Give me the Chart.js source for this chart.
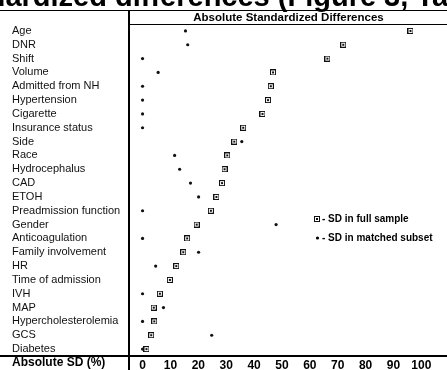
<!DOCTYPE html>
<html>
<head>
<meta charset="utf-8">
<script src="https://cdn.jsdelivr.net/npm/chart.js"></script>
<style>
  html, body { margin: 0; padding: 0; background: #fff; }
</style>
</head>
<body>
<canvas id="sdChart" width="447" height="370"></canvas>
<script>
// values
const variables = ['Age', 'DNR', 'Shift', 'Volume', 'Admitted from NH', 'Hypertension', 'Cigarette',
  'Insurance status', 'Side', 'Race', 'Hydrocephalus', 'CAD', 'ETOH', 'Preadmission function',
  'Gender', 'Anticoagulation', 'Family involvement', 'HR', 'Time of admission', 'IVH', 'MAP',
  'Hypercholesterolemia', 'GCS', 'Diabetes'];
const sdFullSample = [96.1, 72.0, 66.3, 46.8, 46.0, 45.0, 43.0, 36.1, 32.9, 30.4, 29.4, 28.5,
  26.5, 24.5, 19.4, 16.0, 14.6, 12.1, 9.8, 6.2, 4.0, 4.2, 3.1, 1.4];
const sdMatchedSubset = [15.4, 16.2, 0, 5.6, 0, 0, 0, 0, 35.6, 11.5, 13.3, 17.2,
  20.1, 0, 47.9, 0, 20.1, 4.7, null, 0, 7.5, 0, 24.8, 0];
const xTickValues = [0, 10, 20, 30, 40, 50, 60, 70, 80, 90, 100];

const titleText = 'Standardized differences (Figure 3, Table 3)';
const headerText = 'Absolute Standardized Differences';
const axisText = 'Absolute SD (%)';

const narrowBold = "'Liberation Sans Narrow', 'Arial Narrow', 'Liberation Sans', sans-serif";
const sans = "'Liberation Sans', Arial, sans-serif";

function toPoints(values) {
  const pts = [];
  values.forEach(function (v, i) {
    if (v !== null) pts.push({ x: v, y: variables[i] });
  });
  return pts;
}

// little "¤" style square marker
function squareMarker() {
  const c = document.createElement('canvas');
  c.width = 6; c.height = 6;
  const g = c.getContext('2d');
  g.strokeStyle = '#111';
  g.lineWidth = 1;
  g.strokeRect(0.5, 0.5, 5, 5);
  g.fillStyle = '#111';
  g.fillRect(2, 2, 2, 2);
  return c;
}
const sqImg = squareMarker();

const tableFrame = {
  id: 'tableFrame',
  afterDraw(chart) {
    const ctx = chart.ctx;
    const a = chart.chartArea;
    const W = chart.width, H = chart.height;
    ctx.save();
    ctx.strokeStyle = '#000';

    function rule(x1, y1, x2, y2, w) {
      ctx.lineWidth = w;
      ctx.beginPath();
      ctx.moveTo(x1, y1);
      ctx.lineTo(x2, y2);
      ctx.stroke();
    }

    // cropped title above the table (only its lower part is on the page)
    ctx.fillStyle = '#000';
    ctx.font = 'bold 29px ' + sans;
    ctx.textAlign = 'left';
    ctx.textBaseline = 'alphabetic';
    const off = ctx.measureText('Standardized ').width;
    ctx.fillText(titleText, 115 - off, 6);

    rule(0, 10.5, W, 10.5, 1);
    rule(a.left, a.top + 0.5, W, a.top + 0.5, 1);
    rule(a.left - 1, 10, a.left - 1, H, 2);
    rule(0, a.bottom, W, a.bottom, 2);

    ctx.font = 'bold 11.5px ' + sans;
    ctx.textAlign = 'center';
    ctx.textBaseline = 'middle';
    ctx.fillText(headerText, (a.left + W) / 2, 17.5);

    ctx.font = 'bold 12px ' + narrowBold;
    ctx.textAlign = 'left';
    ctx.fillText(axisText, 12, 363);

    // legend
    const ds = chart.data.datasets;
    ctx.font = 'bold 10px ' + sans;
    ctx.drawImage(sqImg, 314, 216);
    ctx.fillText('- ' + ds[0].label, 322, 219);
    ctx.beginPath();
    ctx.arc(317.5, 238, 1.6, 0, Math.PI * 2);
    ctx.fill();
    ctx.fillText('- ' + ds[1].label, 322, 238);
    ctx.restore();
  }
};

new Chart(document.getElementById('sdChart').getContext('2d'), {
  type: 'scatter',
  data: {
    datasets: [{
      label: 'SD in full sample',
      data: toPoints(sdFullSample),
      pointStyle: sqImg,
      pointRadius: 3
    }, {
      label: 'SD in matched subset',
      data: toPoints(sdMatchedSubset),
      pointStyle: 'circle',
      pointRadius: 1.6,
      borderWidth: 0,
      backgroundColor: '#111'
    }]
  },
  options: {
    responsive: false,
    animation: false,
    devicePixelRatio: 1,
    layout: { padding: { left: 12, top: 24, right: 0, bottom: 0 } },
    plugins: { legend: { display: false }, tooltip: { enabled: false } },
    scales: {
      x: {
        type: 'linear',
        min: -4.5,
        max: 107.4,
        grid: { display: false, drawTicks: false },
        border: { display: false },
        afterBuildTicks: function (scale) {
          scale.ticks = xTickValues.map(function (v) { return { value: v }; });
        },
        afterFit: function (scale) { scale.height = 14; },
        ticks: {
          padding: 2,
          autoSkip: false,
          maxRotation: 0,
          color: '#000',
          font: { family: narrowBold, size: 12, weight: 'bold' }
        }
      },
      y: {
        type: 'category',
        labels: variables,
        offset: true,
        grid: { display: false, drawTicks: false },
        border: { display: false },
        afterFit: function (scale) { scale.width = 118; },
        ticks: {
          crossAlign: 'far',
          autoSkip: false,
          color: '#111',
          font: { family: sans, size: 11 }
        }
      }
    }
  },
  plugins: [tableFrame]
});
</script>
</body>
</html>
